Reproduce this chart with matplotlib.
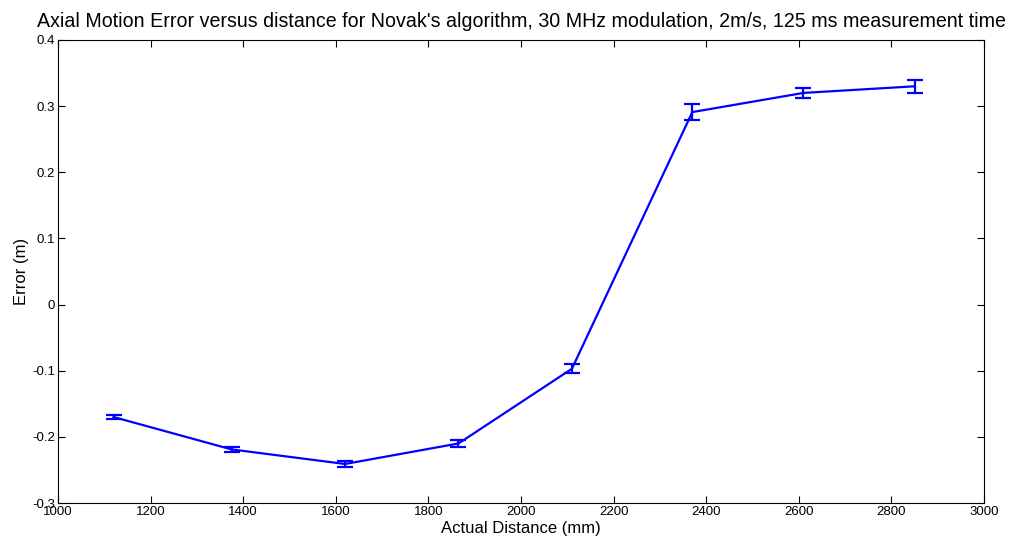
import matplotlib.pyplot as plt
import numpy as np

plt.rcParams['font.family'] = ['Liberation Sans', 'DejaVu Sans']

distance = [1120, 1375, 1620, 1865, 2110, 2370, 2610, 2850]
error = [-0.170, -0.219, -0.241, -0.210, -0.097, 0.291, 0.320, 0.330]
spread = [0.003, 0.004, 0.005, 0.005, 0.007, 0.012, 0.007, 0.010]

fig = plt.figure(figsize=(10.09, 5.38), dpi=100)
ax = fig.add_axes([58 / 1009, 35 / 538, 926 / 1009, 463 / 538])

ax.errorbar(distance, error, yerr=spread, color='#0000ff', linewidth=1.6,
            elinewidth=1.6, capsize=5.5, capthick=1.6)

ax.set_xlim(1000, 3000)
ax.set_ylim(-0.3, 0.4)
ax.set_xticks(np.arange(1000, 3001, 200))
ax.set_yticks(np.arange(-0.3, 0.41, 0.1))
ax.set_yticklabels(['-0.3', '-0.2', '-0.1', '0', '0.1', '0.2', '0.3', '0.4'])
ax.tick_params(direction='in', top=True, right=True, labelsize=9.5, length=5, pad=2)
for s in ax.spines.values():
    s.set_linewidth(0.8)

ax.set_xlabel('Actual Distance (mm)', fontsize=12, labelpad=2)
ax.set_ylabel('Error (m)', fontsize=12, labelpad=2)
ax.set_title("Axial Motion Error versus distance for Novak's algorithm, 30 MHz modulation, "
             "2m/s, 125 ms measurement time", fontsize=14.1, pad=9)

fig.savefig('out.png', dpi=100)
